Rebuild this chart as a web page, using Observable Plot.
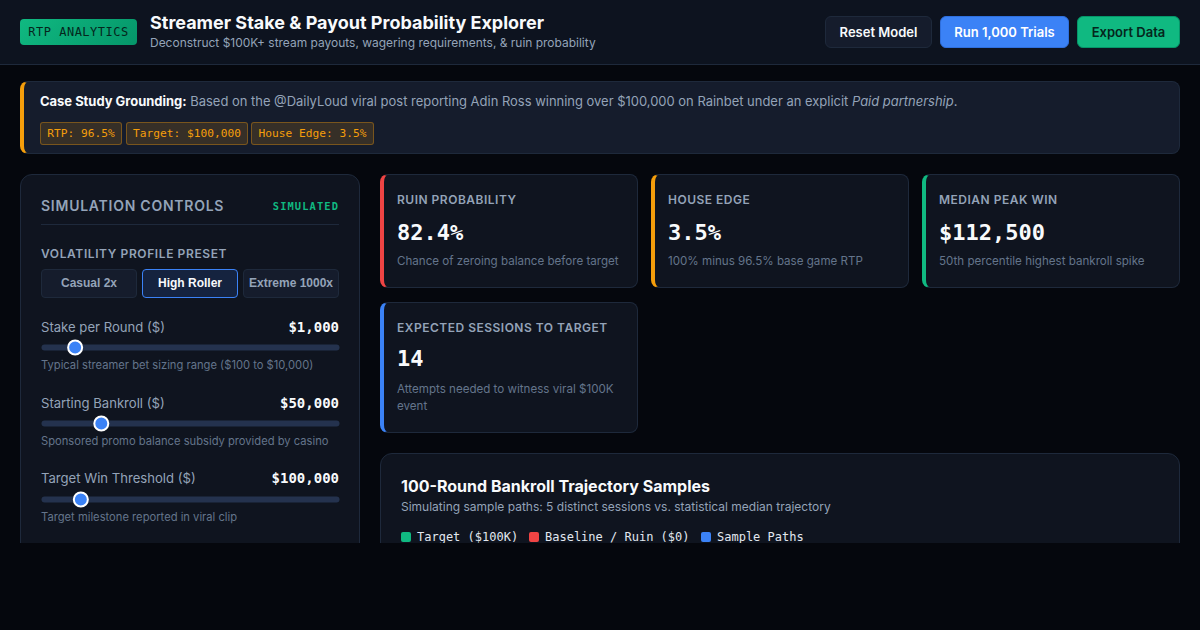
<!DOCTYPE html>
<html><head><meta charset="utf-8">
<script src="https://cdn.jsdelivr.net/npm/d3@7"></script>
<script src="https://cdn.jsdelivr.net/npm/@observablehq/plot@0.6"></script>
<style>
*{box-sizing:border-box;margin:0;padding:0}
html,body{width:1200px;height:630px;overflow:hidden;background:#05070d;font-family:Inter,sans-serif;color:#f8fafc}
.mono{font-family:"DejaVu Sans Mono",monospace}
.abs,.t{position:absolute}
.t{white-space:nowrap;line-height:1}
header{position:absolute;left:0;top:0;width:1200px;height:65px;background:#0d131f;border-bottom:1px solid #1e293b}
.badge{position:absolute;left:20px;top:19px;width:117px;height:26px;border-radius:4px;background:linear-gradient(135deg,#10b981,#059669);color:#05261c;font-size:12px;letter-spacing:.5px;display:flex;align-items:center;justify-content:center}
.btn{position:absolute;top:16px;height:32px;border-radius:6px;font-size:13px;font-weight:600;display:flex;align-items:center;justify-content:center;border:1px solid #1e293b}
#clip{position:absolute;left:0;top:65px;width:1200px;height:478px;overflow:hidden}
.card{position:absolute;background:#0f141f;border:1px solid #1e293b;border-radius:8px}
.kpi{border-left:4px solid}
.tag{position:absolute;top:57px;height:23px;border-radius:3px;background:rgba(245,158,11,.15);border:1px solid rgba(245,158,11,.35);color:#f59e0b;font-size:11.2px;display:flex;align-items:center;justify-content:center}
.preset{position:absolute;top:204px;height:29px;width:96px;border-radius:4px;border:1px solid #1e293b;background:#151c2c;color:#94a3b8;font-size:12px;display:flex;align-items:center;justify-content:center;padding-bottom:1px;font-family:"Liberation Sans",Arial,sans-serif;font-weight:700}
.slider{position:absolute;left:41px;width:298px;height:16px}
.slider svg{display:block;overflow:visible;background:transparent}
</style></head><body>
<header>
  <div class="badge mono">RTP ANALYTICS</div>
  <div class="t" style="left:150px;top:14px;font-size:18px;font-weight:700;line-height:18px">Streamer Stake &amp; Payout Probability Explorer</div>
  <div class="t" style="left:150px;top:37px;font-size:11.98px;color:#94a3b8">Deconstruct $100K+ stream payouts, wagering requirements, &amp; ruin probability</div>
  <div class="btn" style="left:825px;width:107px;background:#151c2c;color:#f8fafc">Reset Model</div>
  <div class="btn" style="left:940px;width:129px;background:#3b82f6;color:#fff;border-color:#2f6fdc">Run 1,000 Trials</div>
  <div class="btn" style="left:1077px;width:103px;background:#10b981;color:#05261c;border-color:#059669">Export Data</div>
</header>
<div id="clip">
  <div class="card" style="left:20px;top:16px;width:1160px;height:73px;background:#151c2c;border-left:4px solid #f59e0b">
    <div class="t" style="left:16px;top:11px;font-size:12.96px;color:#94a3b8;line-height:16px"><b style="color:#f8fafc;font-weight:700">Case Study Grounding:</b> Based on the @DailyLoud viral post reporting Adin Ross winning over $100,000 on Rainbet under an explicit <i>Paid partnership</i>.</div>
  </div>
  <div class="tag mono" style="left:40px;width:82px">RTP: 96.5%</div>
  <div class="tag mono" style="left:126px;width:122px">Target: $100,000</div>
  <div class="tag mono" style="left:251px;width:123px">House Edge: 3.5%</div>

  <div class="card" style="left:20px;top:109px;width:340px;height:520px;border-radius:12px"></div>
  <div class="t" style="left:41px;top:134px;font-size:14px;font-weight:600;color:#94a3b8;letter-spacing:.75px">SIMULATION CONTROLS</div>
  <div class="t mono" style="right:861px;top:136px;font-size:10.4px;font-weight:700;color:#10b981;letter-spacing:1.1px">SIMULATED</div>
  <div class="abs" style="left:41px;top:159px;width:298px;height:1px;background:#1e293b"></div>
  <div class="t" style="left:41px;top:183px;font-size:12px;font-weight:600;color:#94a3b8;letter-spacing:.6px">VOLATILITY PROFILE PRESET</div>
  <div class="preset" style="left:41px">Casual 2x</div>
  <div class="preset" style="left:142px;background:#15233f;border-color:#3b82f6;color:#f8fafc">High Roller</div>
  <div class="preset" style="left:243px">Extreme 1000x</div>

  <div id="controls"></div>

  <div id="kpis"></div>

  <div class="card" style="left:380px;top:388px;width:800px;height:300px;border-radius:12px"></div>
  <div class="t" style="left:401px;top:413px;font-size:16px;font-weight:700">100-Round Bankroll Trajectory Samples</div>
  <div class="t" style="left:401px;top:436px;font-size:12px;color:#94a3b8">Simulating sample paths: 5 distinct sessions vs. statistical median trajectory</div>
  <div id="legend"></div>
</div>
<script>
const sliderLabels = ["Stake per Round ($)", "Starting Bankroll ($)", "Target Win Threshold ($)"];
const sliderValues = [1000, 50000, 100000];
const sliderMins = [100, 5000, 50000];
const sliderMaxs = [10000, 250000, 500000];
const sliderNotes = ["Typical streamer bet sizing range ($100 to $10,000)", "Sponsored promo balance subsidy provided by casino", "Target milestone reported in viral clip"];

const kpiLabels = ["RUIN PROBABILITY", "HOUSE EDGE", "MEDIAN PEAK WIN", "EXPECTED SESSIONS TO TARGET"];
const kpiValues = ["82.4%", "3.5%", "$112,500", "14"];
const kpiNotes = ["Chance of zeroing balance before target", "100% minus 96.5% base game RTP", "50th percentile highest bankroll spike", "Attempts needed to witness viral $100K event"];
const kpiColors = ["#ef4444", "#f59e0b", "#10b981", "#3b82f6"];

const legendLabels = ["Target ($100K)", "Baseline / Ruin ($0)", "Sample Paths"];
const legendColors = ["#10b981", "#ef4444", "#3b82f6"];

const fmt = d3.format("$,");
const el = (parent, html) => { const d = document.createElement("div"); d.innerHTML = html; const n = d.firstElementChild; parent.appendChild(n); return n; };

const rows = [254, 330, 406];
const labelOffset = [2, 2, 1];
const controls = document.getElementById("controls");
sliderLabels.forEach((lab, i) => {
  const y = rows[i];
  el(controls, `<div class="t" style="left:41px;top:${y+labelOffset[i]}px;font-size:13.12px;color:#94a3b8">${lab}</div>`);
  el(controls, `<div class="t mono" style="right:861px;top:${y+labelOffset[i]-1}px;font-size:14px;font-weight:700;color:#f8fafc">${fmt(sliderValues[i])}</div>`);
  const holder = el(controls, `<div class="slider" style="top:${y+20}px"></div>`);
  holder.appendChild(Plot.plot({
    width: 298, height: 16, margin: 0,
    style: {background: "transparent", overflow: "visible"},
    x: {domain: [sliderMins[i], sliderMaxs[i]], range: [8, 290], axis: null},
    y: {domain: [0, 1], range: [16, 0], axis: null},
    marks: [
      Plot.frame({fill: "#24324e", stroke: "none", insetTop: 5, insetBottom: 5, rx: 3}),
      Plot.dot([sliderValues[i]], {x: d => d, y: () => 0.5, r: 7, fill: "#3b82f6", stroke: "#fff", strokeWidth: 2})
    ]
  }));
  el(controls, `<div class="t" style="left:41px;top:${y+41}px;font-size:11.2px;color:#64748b">${sliderNotes[i]}</div>`);
});

const kpiPos = [[380,109,258,114],[651,109,258,114],[922,109,258,114],[380,237,258,131]];
const valueOffset = [48, 48, 48, 46];
const kpis = document.getElementById("kpis");
kpiLabels.forEach((lab, i) => {
  const [x, y, w, h] = kpiPos[i];
  el(kpis, `<div class="card kpi" style="left:${x}px;top:${y}px;width:${w}px;height:${h}px;border-left-color:${kpiColors[i]}"></div>`);
  el(kpis, `<div class="t" style="left:${x+17}px;top:${y+20}px;font-size:12px;font-weight:600;color:#94a3b8;letter-spacing:.5px">${lab}</div>`);
  el(kpis, `<div class="t mono" style="left:${x+17}px;top:${y+valueOffset[i]}px;font-size:22px;font-weight:700;color:#f8fafc">${kpiValues[i]}</div>`);
  el(kpis, `<div class="abs" style="left:${x+17}px;top:${y+79}px;width:${w-34}px;font-size:11.6px;line-height:17px;color:#64748b">${kpiNotes[i]}</div>`);
});

const legendX = [401, 529, 701];
const legend = document.getElementById("legend");
legendLabels.forEach((lab, i) => {
  el(legend, `<div class="abs" style="left:${legendX[i]}px;top:467px;width:10px;height:10px;border-radius:2px;background:${legendColors[i]}"></div>`);
  el(legend, `<div class="t mono" style="left:${legendX[i]+16}px;top:466px;font-size:12px;color:#e2e8f0">${lab}</div>`);
});
</script>
</body></html>
